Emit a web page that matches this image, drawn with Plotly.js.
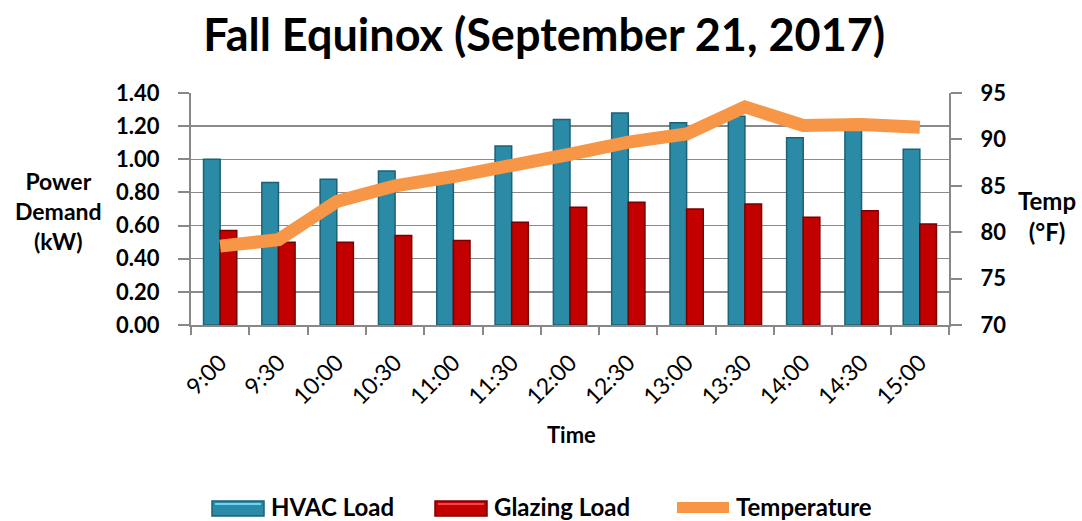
<!DOCTYPE html>
<html>
<head>
<meta charset="utf-8">
<script src="https://cdn.plot.ly/plotly-3.0.1.min.js"></script>
<style>html,body{margin:0;padding:0;background:#fff;}#chart{width:1082px;height:521px;}</style>
</head>
<body>
<div id="chart"></div>
<script>
const times = ["9:00","9:30","10:00","10:30","11:00","11:30","12:00","12:30","13:00","13:30","14:00","14:30","15:00"];
const hvacLoad = [1.00,0.86,0.88,0.93,0.87,1.08,1.24,1.28,1.22,1.26,1.13,1.18,1.06];
const glazingLoad = [0.57,0.50,0.50,0.54,0.51,0.62,0.71,0.74,0.70,0.73,0.65,0.69,0.61];
const temperature = [78.5,79.2,83.3,85.0,86.0,87.1,88.4,89.7,90.6,93.5,91.5,91.6,91.3];
const leftTicks = [0,0.2,0.4,0.6,0.8,1.0,1.2,1.4];
const rightTicks = [70,75,80,85,90,95];
const seriesNames = ["HVAC Load","Glazing Load","Temperature"];

const FONT = "Lato, 'Open Sans', sans-serif";
const HVAC_COLOR = "#2B8AA6", HVAC_EDGE = "#1B6177";
const GLZ_COLOR = "#C30000", GLZ_EDGE = "#7A0000";
const TEMP_COLOR = "#F79646";

// plot area in pixels
const PL = 191, PR = 949, PT = 93, PB = 325;
const px = x => (x - PL) / (PR - PL);
const py = y => (PB - y) / (PB - PT);

const traces = [
  {type:"bar", name:seriesNames[0], x:times, y:hvacLoad, showlegend:false,
   marker:{color:HVAC_COLOR, line:{color:HVAC_EDGE, width:1.5}}},
  {type:"bar", name:seriesNames[1], x:times, y:glazingLoad, showlegend:false,
   marker:{color:GLZ_COLOR, line:{color:GLZ_EDGE, width:1.5}}},
  {type:"scatter", mode:"lines", name:seriesNames[2], x:times, y:temperature, yaxis:"y2", showlegend:false,
   line:{color:TEMP_COLOR, width:13}}
];

const shapes = [
  {type:"rect", xref:"paper", yref:"paper", x0:px(212), x1:px(264), y0:py(516), y1:py(501),
   fillcolor:HVAC_COLOR, line:{color:HVAC_EDGE, width:1.5}},
  {type:"rect", xref:"paper", yref:"paper", x0:px(215), x1:px(261), y0:py(505), y1:py(503),
   fillcolor:"#6FD3EE", line:{width:0}},
  {type:"rect", xref:"paper", yref:"paper", x0:px(435), x1:px(487), y0:py(516), y1:py(501),
   fillcolor:GLZ_COLOR, line:{color:GLZ_EDGE, width:1.5}},
  {type:"rect", xref:"paper", yref:"paper", x0:px(438), x1:px(484), y0:py(505), y1:py(503),
   fillcolor:"#F0454A", line:{width:0}},
  {type:"rect", xref:"paper", yref:"paper", x0:px(677), x1:px(729), y0:py(513), y1:py(502),
   fillcolor:TEMP_COLOR, line:{width:0}}
];

const legendText = (t, x) => ({text:"<b>"+t+"</b>", xref:"paper", yref:"paper", x:px(x), y:py(506),
  xanchor:"left", yanchor:"middle", showarrow:false, font:{size:24, family:FONT, color:"#000"}});

const layout = {
  width:1082, height:521,
  margin:{l:PL, r:1082-PR, t:PT, b:521-PB},
  paper_bgcolor:"#fff", plot_bgcolor:"#fff",
  font:{family:FONT, color:"#000"},
  barmode:"group", bargap:0.43, bargroupgap:0,
  showlegend:false,
  title:{text:"<b>Fall Equinox (September 21, 2017)</b>", x:0.503, xanchor:"center", xref:"container",
         y:1-35/521, yanchor:"middle", yref:"container",
         font:{size:45, family:FONT, color:"#000"}},
  xaxis:{type:"category", tickson:"boundaries", ticks:"outside", ticklen:8, tickcolor:"#888", tickwidth:2,
         showline:true, linecolor:"#888", linewidth:2, tickangle:-45, automargin:false,
         tickfont:{size:23, family:FONT}, showgrid:false, ticklabelstandoff:13},
  yaxis:{range:[0,1.4], tickvals:leftTicks, tickformat:".2f", ticks:"outside", ticklen:11, tickcolor:"#888", tickwidth:2,
         showline:true, linecolor:"#888", linewidth:2, showgrid:true, gridcolor:"#8a8a8a", gridwidth:1.5,
         zeroline:false, automargin:false, tickfont:{size:22, family:FONT, weight:"bold"}, ticklabelstandoff:14},
  yaxis2:{range:[70,95], tickvals:rightTicks, overlaying:"y", side:"right", ticks:"outside", ticklen:11,
          tickcolor:"#888", tickwidth:2, showline:true, linecolor:"#888", linewidth:2, showgrid:false, zeroline:false,
          automargin:false, tickfont:{size:22, family:FONT, weight:"bold"}, ticklabelstandoff:14},
  shapes: shapes,
  annotations:[
    {text:"<b>Power<br>Demand<br>(kW)</b>", xref:"paper", yref:"paper", x:px(58), y:py(211), xanchor:"center", yanchor:"middle",
     showarrow:false, font:{size:23, family:FONT}, align:"center"},
    {text:"<b>Temp<br>(°F)</b>", xref:"paper", yref:"paper", x:px(1047), y:py(216), xanchor:"center", yanchor:"middle",
     showarrow:false, font:{size:24, family:FONT}, align:"center"},
    {text:"<b>Time</b>", xref:"paper", yref:"paper", x:px(571), y:py(434), xanchor:"center", yanchor:"middle",
     showarrow:false, font:{size:22, family:FONT}},
    legendText(seriesNames[0], 269),
    legendText(seriesNames[1], 492),
    legendText(seriesNames[2], 734)
  ]
};
Plotly.newPlot("chart", traces, layout, {displayModeBar:false, staticPlot:true});
</script>
</body>
</html>
